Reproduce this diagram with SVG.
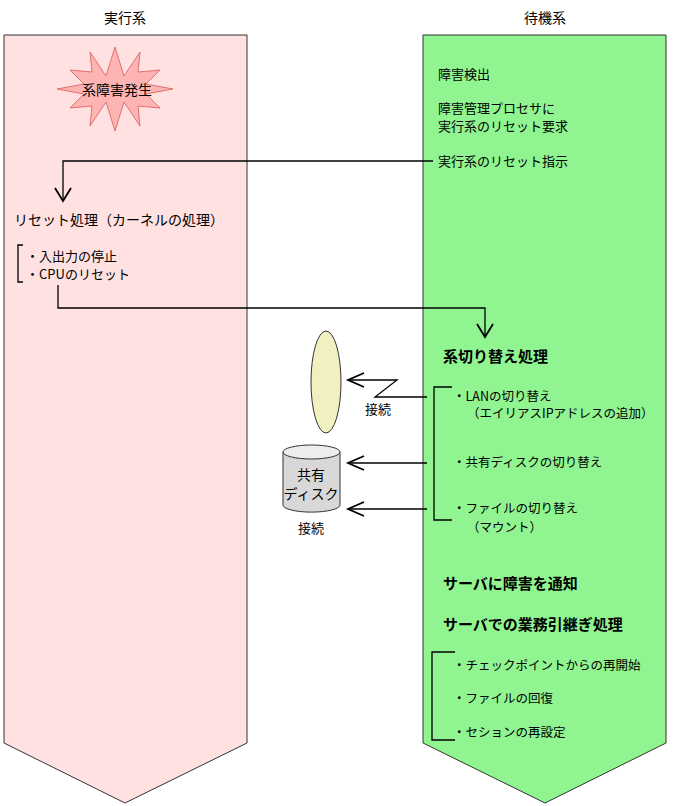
<svg xmlns="http://www.w3.org/2000/svg" width="693" height="806" viewBox="0 0 693 806">
<style>
text{font-family:"Noto Sans CJK JP","Noto Sans CJK SC",sans-serif;font-size:13px;fill:#000}
.s{font-size:12.5px}
.b{font-size:15px;font-weight:bold}
.m{font-size:14px}
.ln{fill:none;stroke:#000;stroke-width:1.3}
.ah{fill:none;stroke:#000;stroke-width:1.8}
</style>
<rect width="693" height="806" fill="#fff"/>
<g id="active">
<polygon points="4,35 247,35 247,743 125,803 4,743" fill="#ffe1e1" stroke="#333" stroke-width="1"/>
<text x="125" y="23" text-anchor="middle" class="m">実行系</text>
</g>
<g id="standby">
<polygon points="423,35 666,35 666,743 545,803 423,743" fill="#90f490" stroke="#333" stroke-width="1"/>
<text x="545" y="23" text-anchor="middle" class="m">待機系</text>
</g>
<g id="burst">
<polygon points="115,47 124,76 140,52 138,72 160,70 146,84 173,89 146,94 160,108 138,106 140,126 124,102 115,131 106,102 90,126 92,106 70,108 84,94 57,89 84,84 70,70 92,72 90,52 106,76" fill="#ffb4b4" stroke="#e07070" stroke-width="1"/>
<text x="117" y="95" text-anchor="middle" class="m">系障害発生</text>
</g>
<g id="left-text">
<text x="14" y="225" class="m">リセット処理（カーネルの処理）</text>
<path class="ln" d="M23,245 H18 V282 H23"/>
<text x="26" y="261">・入出力の停止</text>
<text x="26" y="279">・CPUのリセット</text>
</g>
<g id="right-text">
<text x="438" y="79">障害検出</text>
<text x="438" y="113">障害管理プロセサに</text>
<text x="438" y="131">実行系のリセット要求</text>
<text x="438" y="166">実行系のリセット指示</text>
<text x="443" y="362" class="b">系切り替え処理</text>
<path class="ln" d="M452,387 H434 V520 H452"/>
<text x="453" y="401" class="s">・LANの切り替え</text>
<text x="467" y="418" class="s">（エイリアスIPアドレスの追加）</text>
<text x="453" y="467" class="s">・共有ディスクの切り替え</text>
<text x="453" y="513" class="s">・ファイルの切り替え</text>
<text x="467" y="532" class="s">（マウント）</text>
<text x="443" y="589" class="b">サーバに障害を通知</text>
<text x="443" y="630" class="b">サーバでの業務引継ぎ処理</text>
<path class="ln" d="M455,652 H432 V740 H455"/>
<text x="453" y="670" class="s">・チェックポイントからの再開始</text>
<text x="453" y="703" class="s">・ファイルの回復</text>
<text x="453" y="737" class="s">・セションの再設定</text>
</g>
<g id="lan">
<ellipse cx="326" cy="382" rx="15" ry="51" fill="#f0f0c0" stroke="#333" stroke-width="1"/>
<text x="378" y="414" text-anchor="middle">接続</text>
</g>
<g id="disk">
<path d="M283,452 V505 A28,7 0 0 0 340,505 V452" fill="#d8d8d8" stroke="#333"/>
<ellipse cx="311.5" cy="452" rx="28.5" ry="7" fill="#eeeeee" stroke="#333"/>
<text x="311" y="480" text-anchor="middle" class="m">共有</text>
<text x="311" y="499" text-anchor="middle" class="m">ディスク</text>
<text x="311" y="533" text-anchor="middle">接続</text>
</g>
<g id="connectors">
<path class="ln" d="M433,161 H63 V200"/>
<path class="ah" d="M55,188 L63,201 L71,188"/>
<path class="ln" d="M58,285 V308 H485 V336"/>
<path class="ah" d="M477,324 L485,337 L493,324"/>
<path class="ln" d="M427,397 H375 L397,380 H348"/>
<path class="ah" d="M364,373 L348,380 L364,387"/>
<path class="ln" d="M427,463 H348"/>
<path class="ah" d="M364,456 L348,463 L364,470"/>
<path class="ln" d="M427,509 H348"/>
<path class="ah" d="M364,502 L348,509 L364,516"/>
</g>
</svg>
